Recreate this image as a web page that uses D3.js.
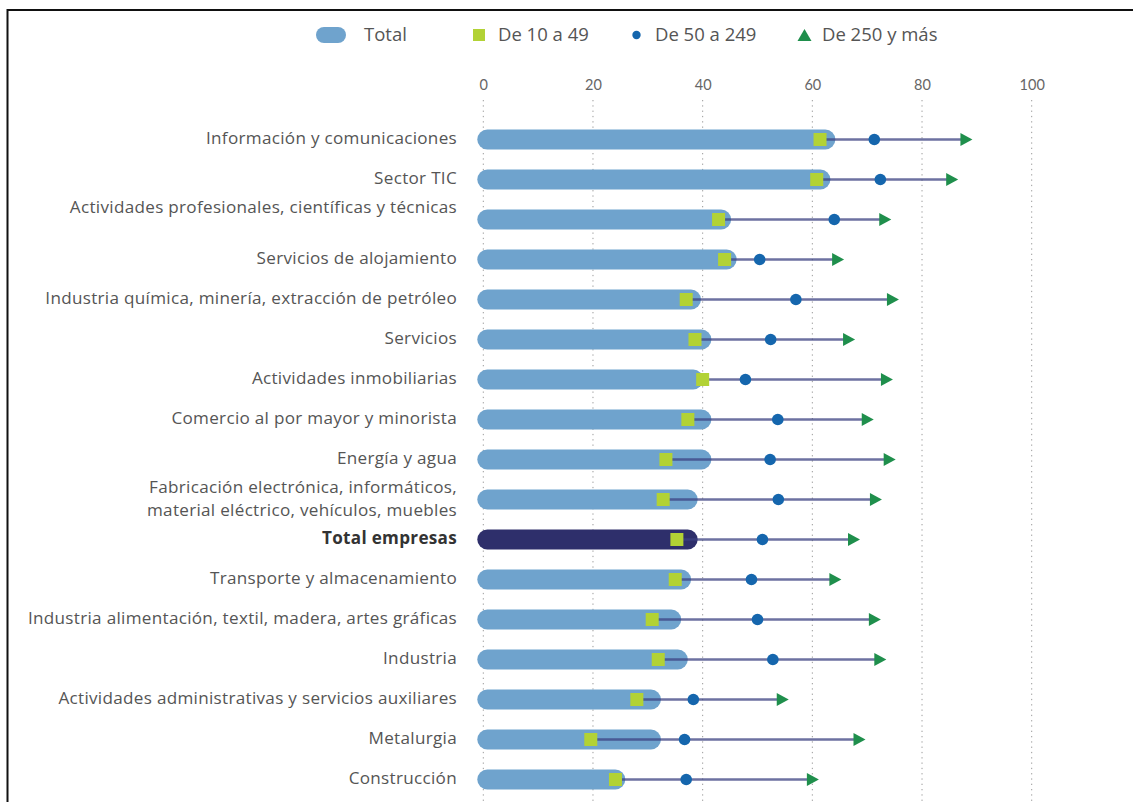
<!DOCTYPE html>
<html lang="es">
<head>
<meta charset="utf-8">
<script src="https://cdn.jsdelivr.net/npm/d3@7"></script>
<style>
  html, body { margin: 0; padding: 0; background: #fff; }
  svg { display: block; font-family: "Open Sans", Lato, sans-serif; }
</style>
</head>
<body>
<svg id="chart" width="1133" height="802"></svg>
<script>
// Row labels (an empty second line keeps a label lifted above its bar)
const categories = [
  ["Información y comunicaciones"],
  ["Sector TIC"],
  ["Actividades profesionales, científicas y técnicas", ""],
  ["Servicios de alojamiento"],
  ["Industria química, minería, extracción de petróleo"],
  ["Servicios"],
  ["Actividades inmobiliarias"],
  ["Comercio al por mayor y minorista"],
  ["Energía y agua"],
  ["Fabricación electrónica, informáticos,", "material eléctrico, vehículos, muebles"],
  ["Total empresas"],
  ["Transporte y almacenamiento"],
  ["Industria alimentación, textil, madera, artes gráficas"],
  ["Industria"],
  ["Actividades administrativas y servicios auxiliares"],
  ["Metalurgia"],
  ["Construcción"]
];
const highlightIndex = 10; // "Total empresas"

// Percentages by company size
const totalValues  = [63.1, 62.2, 44.1, 45.1, 38.6, 40.5, 39.0, 40.5, 40.5, 38.0, 38.0, 36.8, 35.0, 36.2, 31.3, 31.3, 24.8];
const small10to49  = [61.4, 60.8, 42.9, 44.0, 37.0, 38.6, 40.0, 37.3, 33.3, 32.8, 35.3, 35.0, 30.8, 31.9, 28.0, 19.6, 24.1];
const medium50to249 = [71.3, 72.4, 64.0, 50.4, 57.0, 52.4, 47.8, 53.7, 52.3, 53.8, 50.9, 48.9, 50.0, 52.8, 38.3, 36.7, 37.0];
const large250plus = [88.1, 85.5, 73.3, 64.7, 74.7, 66.7, 73.6, 70.1, 74.1, 71.6, 67.6, 64.2, 71.4, 72.4, 54.6, 68.6, 60.1];

const tickValues = [0, 20, 40, 60, 80, 100];
const legendLabels = ["Total", "De 10 a 49", "De 50 a 249", "De 250 y más"];

const colors = {
  bar: "#6fa3cd",
  barHighlight: "#2e2f6b",
  small: "#b2d235",
  medium: "#1566ad",
  large: "#1f8f4c",
  line: "#3c4282",
  text: "#555555",
  grid: "#9a9a9a"
};

const rows = categories.map((lines, i) => ({
  lines, i,
  total: totalValues[i],
  small: small10to49[i],
  medium: medium50to249[i],
  large: large250plus[i]
}));

const svg = d3.select("#chart");

// Outer frame (top and left edges visible)
svg.append("path")
  .attr("d", "M7.5,802 L7.5,10 L1133,10")
  .attr("fill", "none")
  .attr("stroke", "#111")
  .attr("stroke-width", 2);

const x = d3.scaleLinear().domain([0, 100]).range([483.3, 1031.7]);
const y = d3.scaleBand()
  .domain(d3.range(categories.length))
  .range([119.5, 799.5])
  .padding(0);
const yc = i => y(i) + y.bandwidth() / 2;

// Dotted vertical gridlines
svg.append("g")
  .selectAll("line")
  .data(tickValues)
  .join("line")
  .attr("x1", d => x(d)).attr("x2", d => x(d))
  .attr("y1", 100).attr("y2", 802)
  .attr("stroke", colors.grid)
  .attr("stroke-width", 1)
  .attr("stroke-dasharray", "1.3,4");

// Top axis labels
const axis = svg.append("g")
  .attr("transform", "translate(0,90)")
  .call(d3.axisTop(x).tickValues(tickValues).tickSize(0).tickPadding(0));
axis.select(".domain").remove();
axis.selectAll("text")
  .attr("fill", "#666")
  .style("font-family", "Lato, sans-serif")
  .style("font-size", "14.5px");

// Row labels
const labels = svg.append("g");
rows.forEach(r => {
  const n = r.lines.length;
  const lh = 22.5;
  r.lines.forEach((line, k) => {
    labels.append("text")
      .attr("x", 457)
      .attr("y", yc(r.i) + (k - (n - 1) / 2) * lh - 1)
      .attr("dy", "0.35em")
      .attr("text-anchor", "end")
      .attr("fill", r.i === highlightIndex ? "#333" : colors.text)
      .style("font-size", "17.1px")
      .style("letter-spacing", "0.3px")
      .style("font-weight", r.i === highlightIndex ? 700 : 400)
      .text(line);
  });
});

// Total bars (rounded)
const barH = 20;
svg.append("g")
  .selectAll("rect")
  .data(rows)
  .join("rect")
  .attr("x", x(0) - 6)
  .attr("y", d => yc(d.i) - barH / 2)
  .attr("width", d => x(d.total) - x(0) + 12)
  .attr("height", barH)
  .attr("rx", barH / 2)
  .attr("fill", d => d.i === highlightIndex ? colors.barHighlight : colors.bar);

// Range line from smallest to largest size group
svg.append("g")
  .selectAll("line")
  .data(rows)
  .join("line")
  .attr("x1", d => x(Math.min(d.small, d.medium, d.large)))
  .attr("x2", d => x(Math.max(d.small, d.medium, d.large)))
  .attr("y1", d => yc(d.i)).attr("y2", d => yc(d.i))
  .attr("stroke", colors.line)
  .attr("stroke-opacity", 0.75)
  .attr("stroke-width", 2.5);

// 250+ : triangle pointing right
const triW = 12, triH = 13;
svg.append("g")
  .selectAll("path")
  .data(rows)
  .join("path")
  .attr("transform", d => `translate(${x(d.large)},${yc(d.i)})`)
  .attr("d", `M${-triW / 2},${-triH / 2} L${triW / 2},0 L${-triW / 2},${triH / 2} Z`)
  .attr("fill", colors.large);

// 50-249 : circle
svg.append("g")
  .selectAll("circle")
  .data(rows)
  .join("circle")
  .attr("cx", d => x(d.medium))
  .attr("cy", d => yc(d.i))
  .attr("r", 5.8)
  .attr("fill", colors.medium);

// 10-49 : square
const sq = 13;
svg.append("g")
  .selectAll("rect")
  .data(rows)
  .join("rect")
  .attr("x", d => x(d.small) - sq / 2)
  .attr("y", d => yc(d.i) - sq / 2)
  .attr("width", sq).attr("height", sq)
  .attr("fill", colors.small);

// Legend
const legend = svg.append("g").attr("transform", "translate(0,35)");
const legendItems = [
  { label: legendLabels[0], sx: 331, tx: 364, draw: g => g.append("rect").attr("x", -15).attr("y", -8).attr("width", 30).attr("height", 16).attr("rx", 8).attr("fill", colors.bar) },
  { label: legendLabels[1], sx: 479, tx: 498, draw: g => g.append("rect").attr("x", -6).attr("y", -6).attr("width", 12).attr("height", 12).attr("fill", colors.small) },
  { label: legendLabels[2], sx: 636.5, tx: 655, draw: g => g.append("circle").attr("r", 4.2).attr("fill", colors.medium) },
  { label: legendLabels[3], sx: 804.5, tx: 822, draw: g => g.append("path").attr("d", "M-7,6 L0,-6 L7,6 Z").attr("fill", colors.large) }
];
legendItems.forEach(it => {
  const g = legend.append("g").attr("transform", `translate(${it.sx},0)`);
  it.draw(g);
  legend.append("text")
    .attr("x", it.tx)
    .attr("dy", "0.35em")
    .attr("fill", colors.text)
    .style("font-size", "18.5px")
    .text(it.label);
});
</script>
</body>
</html>
